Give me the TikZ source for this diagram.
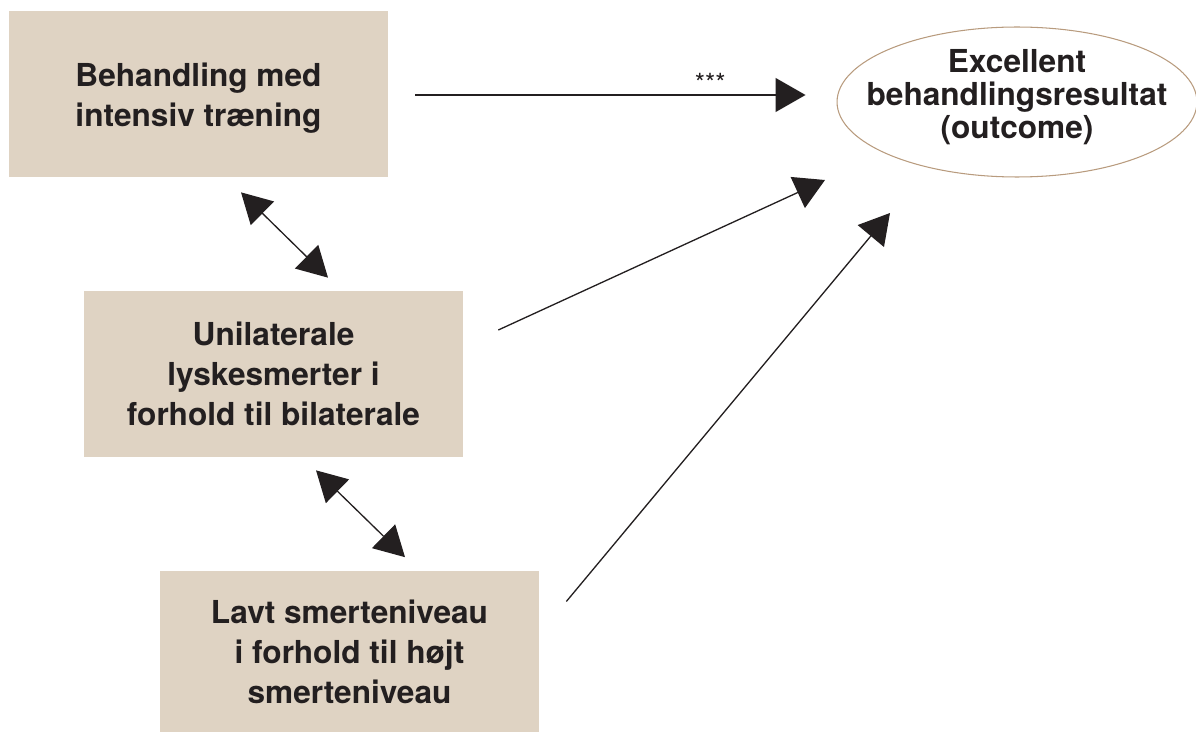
\documentclass[tikz,border=0pt]{standalone}
\usepackage{fontspec}
\setmainfont{TeX Gyre Heros}
\usetikzlibrary{arrows.meta,shapes.geometric,calc}
\definecolor{boxfill}{HTML}{DFD3C3}
\definecolor{ringcol}{HTML}{B89B7E}
\definecolor{ink}{HTML}{231F20}
\tikzset{
 factor/.style={fill=boxfill,minimum width=7.58cm,minimum height=3.32cm,align=center,text=ink,
  font=\bfseries\fontsize{18}{22.8}\selectfont},
 factortext/.style={align=center,text=ink,font=\bfseries\fontsize{18}{22.8}\selectfont},
 result/.style={ellipse,draw=ringcol,line width=0.6pt,minimum width=7.2cm,minimum height=3cm,inner sep=0pt},
 resulttext/.style={align=center,text=ink,font=\bfseries\fontsize{18}{18.8}\selectfont},
 onehead/.style={line width=0.75pt,draw=ink,-{Triangle[length=0.6cm,width=0.68cm]}},
 twohead/.style={line width=0.75pt,draw=ink,{Triangle[length=0.6cm,width=0.66cm]}-{Triangle[length=0.6cm,width=0.66cm]}}
}
\begin{document}
\begin{tikzpicture}[x=0.02cm,y=-0.02cm]
 \useasboundingbox (0,0) rectangle (1196,733);
 \node[factor] (treat) at (198.5,94) {};
 \node[factortext] (treattext) at ($(treat.center)+(0,4.5)$) {Behandling med\\intensiv træning};
 \node[factor] (uni) at (273.5,374) {Unilaterale\\lyskesmerter i\\forhold til bilaterale};
 \node[factor,minimum height=3.24cm] (pain) at (349.5,651.5) {Lavt smerteniveau\\i forhold til højt\\smerteniveau};
 \node[result] (outcome) at (1017,102) {};
 \node[resulttext] (outtext) at ($(outcome.center)+(0,-5)$) {Excellent\\behandlingsresultat\\(outcome)};
 \draw[onehead] ($(treat.east)+(27,1)$) -- ($(outcome.west)+(-31,-7)$)
  node[pos=.756,anchor=base,yshift=1.5pt,text=ink,font=\fontsize{15}{17}\selectfont] {***};
 \draw[twohead] ($(treat.south)+(42.5,15)$) -- ($(uni.north)+(54.5,-13)$);
 \draw[twohead] ($(uni.south)+(42.5,13)$) -- ($(pain.north)+(55.5,-13)$);
 \draw[onehead] ($(uni.east)+(35,-44)$) -- ($(outcome.center)+(-192,78)$);
 \draw[onehead] ($(pain.east)+(27,-50)$) -- ($(outcome.center)+(-127,111)$);
\end{tikzpicture}
\end{document}
